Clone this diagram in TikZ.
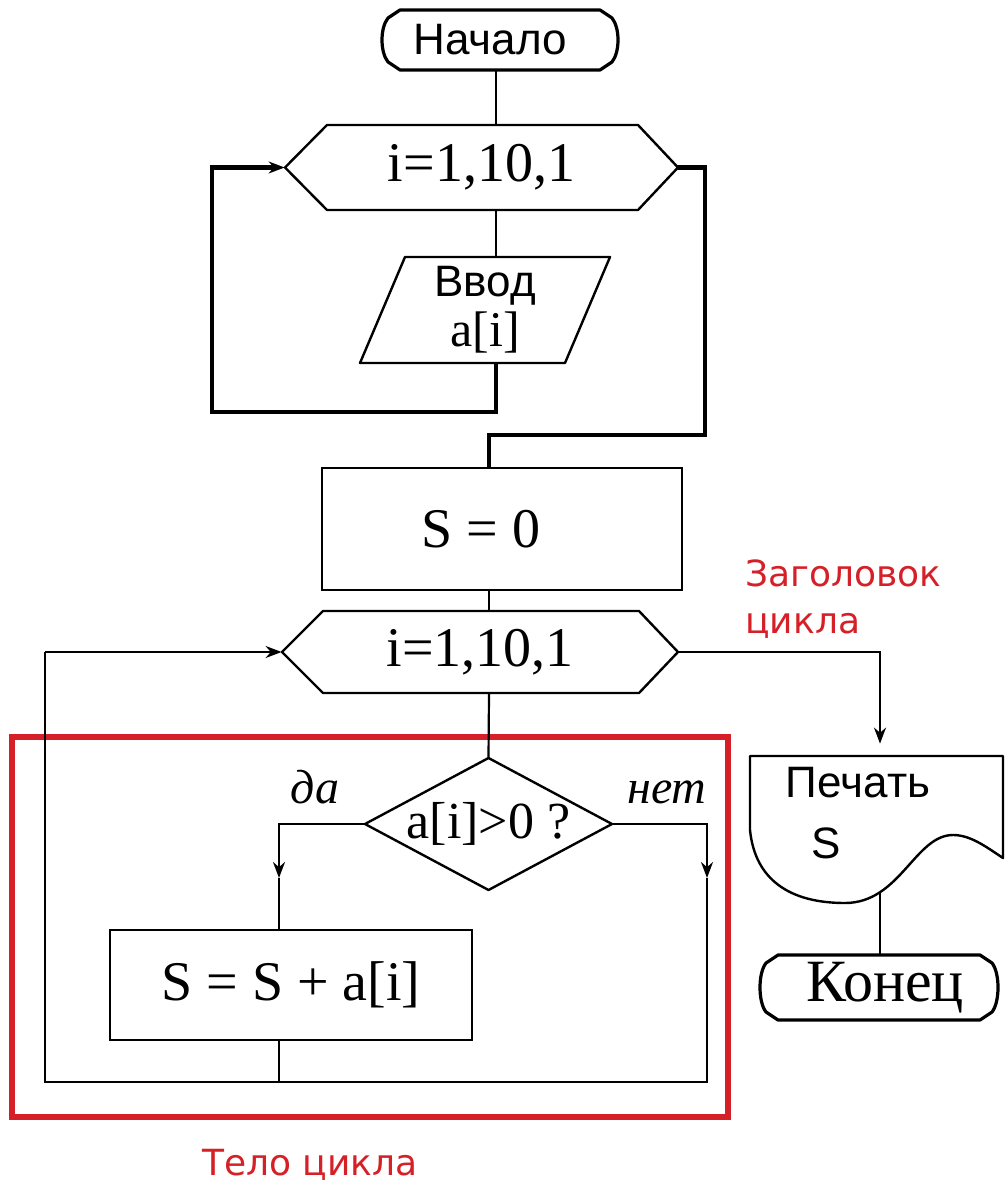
\documentclass[tikz,border=0pt]{standalone}
\usepackage{fontspec}
\setmainfont{Liberation Serif}
\setsansfont{Liberation Sans}
\newfontfamily\redfont{DejaVu Sans}
\usetikzlibrary{calc,arrows.meta}
\definecolor{redbox}{RGB}{214,32,40}
\begin{document}
\begin{tikzpicture}[x=0.5pt,y=-0.5pt,
  shp/.style={draw=none, inner sep=0pt, rectangle},
  boxed/.style={draw, line width=1.2pt, inner sep=0pt, rectangle},
  ln/.style={line width=1.1pt},
  thk/.style={line width=2.3pt},
  outl/.style={line width=1.2pt, line join=round},
  arr/.style={-{Stealth[length=8pt,width=6pt]}},
  sanslab/.style={font=\sffamily\fontsize{22}{26}\selectfont, align=center},
  seriflab/.style={font=\fontsize{28}{32}\selectfont},
  redlab/.style={text=redbox, font=\redfont\fontsize{18}{23.5}\selectfont, align=left, inner sep=0pt},
  branchlab/.style={font=\itshape\fontsize{24}{24}\selectfont, inner sep=0pt, anchor=base}
]
\useasboundingbox (0,0) rectangle (1007,1187);

% helper columns
\coordinate (colA) at (496,0);
\coordinate (colB) at (489,0);
\coordinate (colC) at (880,0);

% ---------- nodes ----------
\node[shp, sanslab, minimum width={240*0.5pt}, minimum height={60*0.5pt}] (start) at (500,40) {Начало\rule{10pt}{0pt}};
\node[shp, seriflab, minimum width={393*0.5pt}, minimum height={85*0.5pt}] (h1) at (481.5,167.5) {i=1,10,1};
\node[shp, sanslab, minimum width={250*0.5pt}, minimum height={106*0.5pt}] (io) at (485,310)
  {Ввод\\[-1pt]{\rmfamily\fontsize{25}{28}\selectfont a[i]}};
\node[boxed, seriflab, minimum width={360*0.5pt}, minimum height={122*0.5pt}] (s0) at (502,529) {S = 0\rule{21pt}{0pt}};
\node[shp, seriflab, minimum width={396*0.5pt}, minimum height={82*0.5pt}] (h2) at (480,652) {i=1,10,1};
\node[shp, font=\fontsize{26}{30}\selectfont, minimum width={247*0.5pt}, minimum height={132*0.5pt}] (d) at (488.5,824) {a[i]>0 ?};
\node[boxed, seriflab, minimum width={362*0.5pt}, minimum height={110*0.5pt}] (b2) at (291,985) {S = S + a[i]};
\node[shp, minimum width={253*0.5pt}, minimum height={147*0.5pt}] (doc) at (876.5,829.5) {};
\node[shp, font=\sffamily\fontsize{22}{26}\selectfont] (pr1) at (858,783) {Печать};
\node[shp, font=\sffamily\fontsize{22}{26}\selectfont] (pr2) at (826,843) {S};
\node[shp, font=\fontsize{30}{34}\selectfont, minimum width={242*0.5pt}, minimum height={65*0.5pt}] (fin) at (879,987.5) {\hspace{6pt}Конец};

\node[branchlab] (yes) at (315,803) {да};
\node[branchlab] (no) at (667,803) {нет};

\node[redlab, anchor=north west] (hdr) at (745,559) {Заголовок\\цикла};
\node[redlab, anchor=base west] (tel) at (202,1175) {Тело цикла};

\node[draw=redbox, line width=2.6pt, inner sep=0pt, minimum width={716*0.5pt}, minimum height={380*0.5pt}] (body) at (370,927) {};

% ---------- shape outlines ----------
\draw[outl, line width=1.6pt] (400,10) -- (600,10) -- (612,18) .. controls (620,28) and (620,52) .. (612,62) -- (600,70) -- (400,70) -- (388,62) .. controls (380,52) and (380,28) .. (388,18) -- cycle;
\draw[outl] (285,167.5) -- (327,125) -- (638,125) -- (678,167.5) -- (638,210) -- (327,210) -- cycle;
\draw[outl] (405,257) -- (610,257) -- (565,363) -- (360,363) -- cycle;
\draw[outl] (282,652) -- (323,611) -- (639,611) -- (678,652) -- (639,693) -- (323,693) -- cycle;
\draw[outl] (488.5,758) -- (612,824) -- (488.5,890) -- (365,824) -- cycle;
\draw[outl] (750,756) -- (1003,756) -- (1003,858) .. controls (985,846) and (970,835) .. (953,835)
  .. controls (915,835) and (900,903) .. (845,903) .. controls (790,903) and (755,880) .. (750,830) -- cycle;
\draw[outl, line width=1.6pt] (778,955) -- (980,955) -- (992,963) .. controls (1000,973) and (1000,1002) .. (992,1012) -- (980,1020) -- (778,1020) -- (766,1012) .. controls (758,1002) and (758,973) .. (766,963) -- cycle;

% ---------- connectors ----------
\coordinate (lp1) at (212,412);
\coordinate (ex1) at (705,435);
\coordinate (yesA) at (279,878);
\coordinate (noA) at (707,878);
\coordinate (bot) at (45,1082);
\coordinate (docb) at (880,893);

\draw[ln] (colA |- start.south) -- (colA |- h1.north);
\draw[ln] (colA |- h1.south) -- (colA |- io.north);
\draw[thk] (colA |- io.south) -- (colA |- lp1) -- (lp1) |- ($(h1.west)+(-8,0)$);
\draw[ln, arr] ($(h1.west)+(-10,0)$) -- (h1.west);
\draw[thk] (h1.east) -| (ex1) -| (colB |- s0.north);
\draw[ln] (colB |- s0.south) -- (colB |- h2.north);
\draw[ln] (colB |- h2.south) -- (d.north);
\draw[ln, arr] (d.west) -| (yesA);
\draw[ln] (yesA) -- (yesA |- b2.north);
\draw[ln, arr] (d.east) -| (noA);
\draw[ln] (noA) -- (noA |- bot) -- (bot) -- (bot |- h2.west);
\draw[ln, arr] (bot |- h2.west) -- (h2.west);
\draw[ln] (yesA |- b2.south) -- (yesA |- bot);
\draw[ln, arr] (h2.east) -| ($(colC |- doc.north)+(0,-12)$);
\draw[ln] (docb) -- (colC |- fin.north);
\end{tikzpicture}
\end{document}
